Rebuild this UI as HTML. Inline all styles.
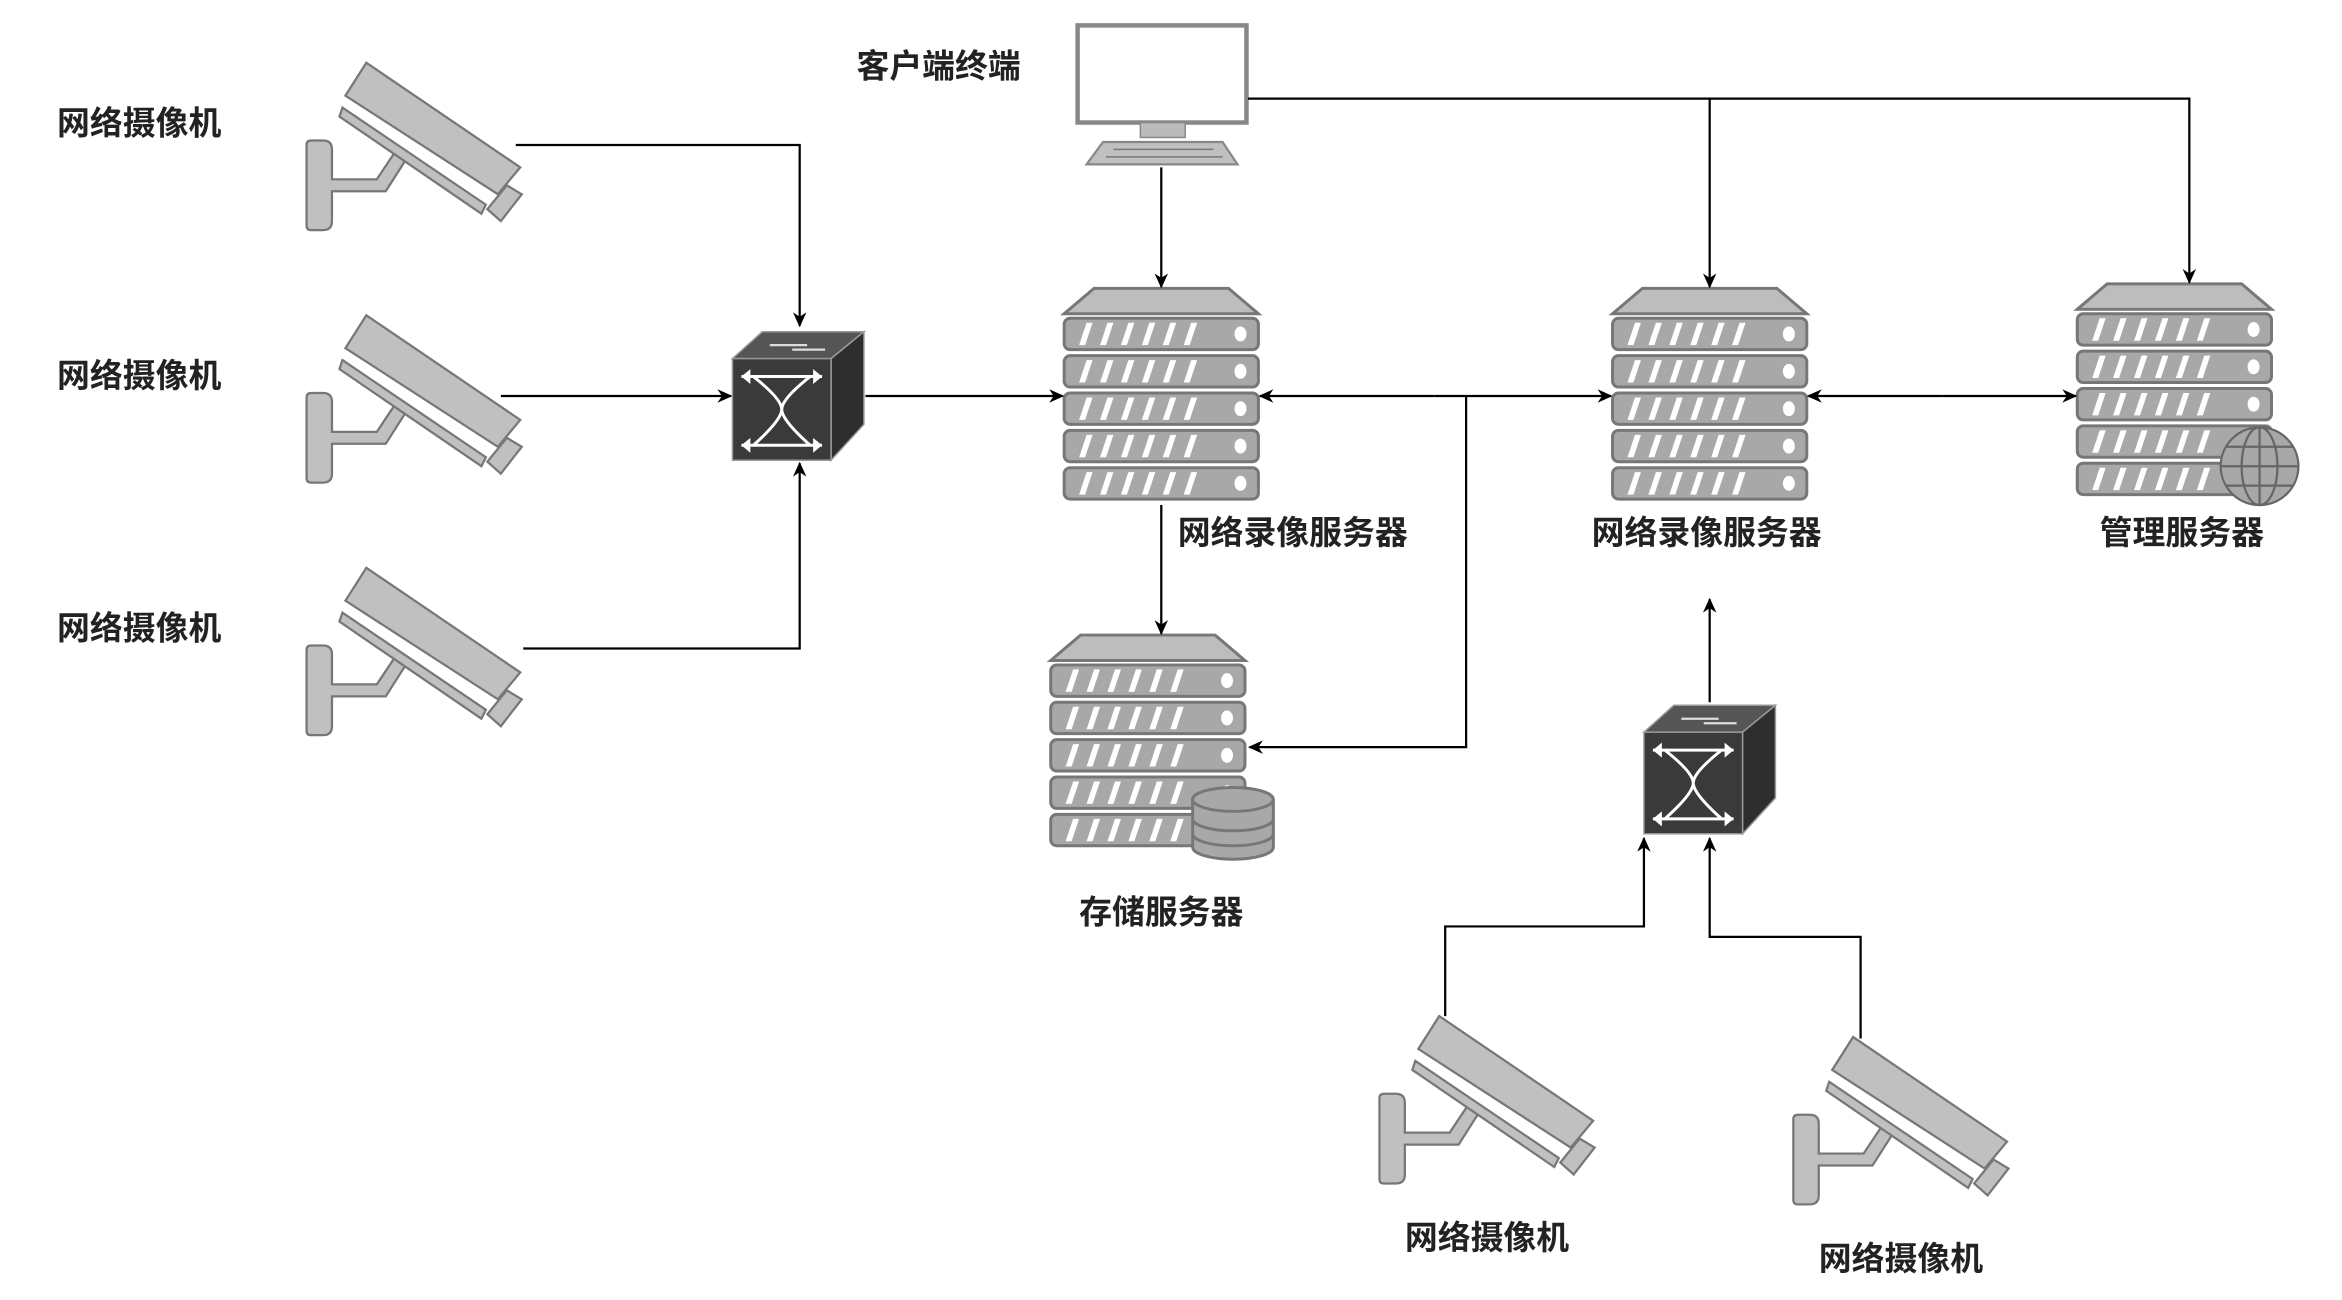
<!DOCTYPE html>
<html><head><meta charset="utf-8"><style>
html,body{margin:0;padding:0;background:#fff;}
svg{display:block}
text{font-family:"Liberation Sans","Noto Sans CJK SC","WenQuanYi Zen Hei",sans-serif;font-weight:bold;fill:#222;font-size:22px}
</style></head><body>
<svg width="2342" height="1300" viewBox="0 0 1567 870" xmlns="http://www.w3.org/2000/svg">
<defs>
<marker id="ah" markerWidth="10" markerHeight="10" refX="9" refY="5" orient="auto" markerUnits="userSpaceOnUse">
<path d="M0,0.5 L10,5 L0,9.5 L3,5 Z" fill="#000"/></marker>
<g id="cam">
<path d="M0,55 q0,-3 3,-3 h8 q6,0 6,6 v20 h30 l12,-18 l8,4 l-14,22 h-36 v20 q0,6 -6,6 h-8 q-3,0 -3,-3 Z" fill="#c0c0c0" stroke="#777" stroke-width="1.5"/>
<path d="M26,22 L40,0 L143,70 L128,88 Z" fill="#c0c0c0" stroke="#777" stroke-width="1.5"/>
<path d="M24,30 L120,95 L117,101 L22,36 Z" fill="#c0c0c0" stroke="#777" stroke-width="1.5"/>
<path d="M121,98 L134,82 L144,88 L130,106 Z" fill="#c0c0c0" stroke="#777" stroke-width="1.5"/>
</g>
<g id="row">
<rect x="0" y="0" width="130" height="21" rx="4" fill="#a8a8a8" stroke="#777" stroke-width="2"/>
<path d="M10,18 l5,-15 h4 l-5,15z M24,18 l5,-15 h4 l-5,15z M38,18 l5,-15 h4 l-5,15z M52,18 l5,-15 h4 l-5,15z M66,18 l5,-15 h4 l-5,15z M80,18 l5,-15 h4 l-5,15z" fill="#fff"/>
<ellipse cx="118" cy="10.5" rx="4" ry="5" fill="#fff"/>
</g>
<g id="srv">
<path d="M20,0 H110 L130,17 H0 Z" fill="#bdbdbd" stroke="#777" stroke-width="2"/>
<use href="#row" y="20"/><use href="#row" y="45"/><use href="#row" y="70"/><use href="#row" y="95"/><use href="#row" y="120"/>
</g>
<g id="sw">
<path d="M0,18 L20,0 H88 L66,18 Z" fill="#555" stroke="#999"/>
<path d="M66,18 L88,0 V62 L66,86 Z" fill="#2e2e2e" stroke="#999"/>
<rect x="0" y="18" width="66" height="68" fill="#3a3a3a" stroke="#999"/>
<path d="M14,30 Q33,45 33,52 Q33,59 14,76 M52,30 Q33,45 33,52 Q33,59 52,76 M6,30 H60 M6,76 H60" fill="none" stroke="#fff" stroke-width="2"/>
<path d="M6,30 l6,-5 v10z M60,30 l-6,-5 v10z M6,76 l6,-5 v10z M60,76 l-6,-5 v10z" fill="#fff"/>
<path d="M25,9 H50 M40,12 H62" stroke="#ddd" stroke-width="1.5"/>
</g>
</defs>

<text x="38" y="90">网络摄像机</text>
<text x="38" y="259">网络摄像机</text>
<text x="38" y="428">网络摄像机</text>
<text x="573" y="52">客户端终端</text>
<text x="788" y="364">网络录像服务器</text>
<text x="1065" y="364">网络录像服务器</text>
<text x="1405" y="364">管理服务器</text>
<text x="722" y="618">存储服务器</text>
<text x="940" y="836">网络摄像机</text>
<text x="1217" y="850">网络摄像机</text>

<use href="#cam" x="205" y="42"/>
<use href="#cam" x="205" y="211"/>
<use href="#cam" x="205" y="380"/>
<use href="#cam" x="923" y="680"/>
<use href="#cam" x="1200" y="694"/>

<use href="#sw" x="490" y="222"/>
<use href="#sw" x="1100" y="472"/>

<use href="#srv" x="712" y="193"/>
<use href="#srv" x="1079" y="193"/>
<use href="#srv" x="1390" y="190"/>
<use href="#srv" x="703" y="425"/>

<g fill="#a8a8a8" stroke="#777" stroke-width="2">
<path d="M798,535 v32 a27,8 0 0 0 54,0 v-32"/>
<ellipse cx="825" cy="535" rx="27" ry="8"/>
<path d="M798,548 a27,8 0 0 0 54,0 M798,558 a27,8 0 0 0 54,0" fill="none"/>
</g>
<g fill="#a8a8a8" stroke="#666" stroke-width="1.5">
<circle cx="1512" cy="312" r="26"/>
<ellipse cx="1512" cy="312" rx="12" ry="26" fill="none"/>
<path d="M1512,286 V338 M1486,312 H1538 M1490,299 H1534 M1490,325 H1534" fill="none"/>
</g>

<rect x="721" y="17" width="113" height="65" fill="#fff" stroke="#888" stroke-width="3"/>
<rect x="763" y="82" width="30" height="10" fill="#bbb" stroke="#888"/>
<path d="M738,95 H818 L828,110 H727 Z" fill="#c0c0c0" stroke="#888" stroke-width="1.5"/>
<path d="M745,100 H812 M740,105 H818" stroke="#777"/>

<g fill="none" stroke="#000" stroke-width="1.5">
<path d="M345,97 H535 V218" marker-end="url(#ah)"/>
<path d="M335,265 H489" marker-end="url(#ah)"/>
<path d="M350,434 H535 V310" marker-end="url(#ah)"/>
<path d="M579,265 H711" marker-end="url(#ah)"/>
<path d="M777,112 V192" marker-end="url(#ah)"/>
<path d="M835,66 H1465 V189" marker-end="url(#ah)"/>
<path d="M1144,66 V192" marker-end="url(#ah)"/>
<path d="M960,265 H843" marker-end="url(#ah)"/>
<path d="M960,265 H1078" marker-end="url(#ah)"/>
<path d="M981,265 V500 H836" marker-end="url(#ah)"/>
<path d="M1300,265 H1210" marker-end="url(#ah)"/>
<path d="M1300,265 H1389" marker-end="url(#ah)"/>
<path d="M777,338 V424" marker-end="url(#ah)"/>
<path d="M1144,470 V401" marker-end="url(#ah)"/>
<path d="M967,680 V620 H1100 V561" marker-end="url(#ah)"/>
<path d="M1245,695 V627 H1144 V561" marker-end="url(#ah)"/>
</g>
</svg>
</body></html>
